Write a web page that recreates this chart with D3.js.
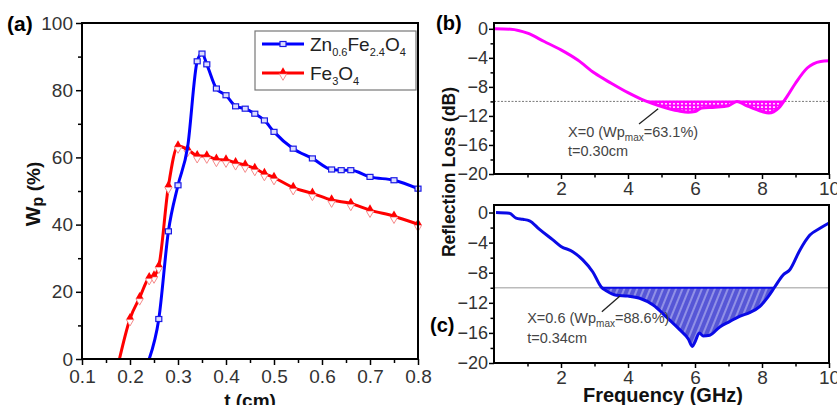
<!DOCTYPE html>
<html>
<head>
<meta charset="utf-8">
<script src="https://cdn.jsdelivr.net/npm/d3@7"></script>
<style>
  body { margin: 0; background: #fff; }
  svg { display: block; font-family: Arial, "Liberation Sans", sans-serif; }
  .tick text { fill: #333; }
</style>
</head>
<body>
<svg id="chart" width="837" height="405"></svg>
<script>
// panel (a): penetration ratio vs thickness
const znT = [0.24, 0.26, 0.28, 0.30, 0.32, 0.34, 0.35, 0.36, 0.38, 0.40, 0.42, 0.44, 0.46, 0.48, 0.50, 0.54, 0.58, 0.62, 0.64, 0.66, 0.70, 0.75, 0.80];
const znW = [0, 11.9, 38, 51.7, 63, 88.6, 90.9, 87.7, 80.5, 78.5, 75.2, 74.5, 73, 71, 67.6, 62.6, 59.7, 56.4, 56.2, 56.2, 54.2, 53.2, 50.7];
const feT = [0.178, 0.20, 0.22, 0.24, 0.25, 0.26, 0.28, 0.30, 0.32, 0.34, 0.36, 0.38, 0.40, 0.42, 0.44, 0.46, 0.48, 0.50, 0.54, 0.58, 0.62, 0.66, 0.70, 0.75, 0.80];
const feW = [0, 12, 18.2, 24.2, 24.7, 27.6, 51.4, 63.4, 62.4, 60.5, 60.4, 59.4, 59.2, 58.4, 57.7, 56.7, 55.2, 54, 51, 49.3, 47.3, 46.3, 44.3, 42.5, 40.1];

// panel (b): X=0, t=0.30cm
const freqB = [0.03, 0.5, 1.0, 1.5, 2.0, 2.5, 3.0, 3.5, 4.0, 4.5, 5.0, 5.5, 5.8, 6.0, 6.2, 6.6, 7.0, 7.25, 7.5, 8.0, 8.2, 8.5, 8.75, 9.0, 9.35, 9.75, 10];
const rlB = [0, -0.05, -0.6, -1.75, -2.9, -4.3, -6.1, -7.5, -8.8, -9.9, -10.7, -11.3, -11.5, -11.4, -10.9, -10.8, -10.6, -10.0, -10.5, -11.4, -11.6, -10.9, -9.3, -7.5, -5.4, -4.5, -4.4];

// panel (c): X=0.6, t=0.34cm
const freqC = [0.06, 0.46, 0.66, 0.86, 1.06, 1.35, 1.75, 2.0, 2.35, 2.65, 2.95, 3.2, 3.35, 3.65, 4.0, 4.35, 4.75, 5.15, 5.55, 5.8, 5.92, 6.0, 6.13, 6.24, 6.44, 6.74, 7.03, 7.33, 7.63, 7.93, 8.18, 8.38, 8.63, 8.83, 9.13, 9.43, 9.73, 10];
const rlC = [0, -0.1, -0.75, -0.9, -1.1, -2.2, -3.6, -4.5, -5.2, -6.3, -7.9, -9.9, -10.4, -11, -11.1, -11.4, -12.3, -13.9, -15.6, -16.8, -17.8, -17.2, -16.0, -16.4, -16.3, -15.2, -14.5, -13.8, -13.3, -12.5, -11.2, -9.9, -8.3, -7.6, -5.0, -3.0, -2.1, -1.4];

const wTicks = [0, 20, 40, 60, 80, 100];
const tTicks = [0.1, 0.2, 0.3, 0.4, 0.5, 0.6, 0.7, 0.8];
const rlTicks = [0, -4, -8, -12, -16, -20];
const fTicks = [2, 4, 6, 8, 10];
const threshold = -10;

const svg = d3.select('#chart');
const zip = (xs, ys) => xs.map((x, i) => ({x, y: ys[i]}));

const defs = svg.append('defs');
const dots = defs.append('pattern').attr('id', 'dots').attr('patternUnits', 'userSpaceOnUse')
    .attr('width', 4).attr('height', 3.4);
dots.append('rect').attr('width', 4).attr('height', 3.4).attr('fill', '#ff00ff');
dots.append('ellipse').attr('cx', 2).attr('cy', 1.7).attr('rx', 1.2).attr('ry', 0.9).attr('fill', '#fff');
const hatch = defs.append('pattern').attr('id', 'hatch').attr('patternUnits', 'userSpaceOnUse')
    .attr('width', 6).attr('height', 6).attr('patternTransform', 'rotate(22)');
hatch.append('rect').attr('width', 6).attr('height', 6).attr('fill', '#5656d6');
hatch.append('line').attr('x1', 3).attr('x2', 3).attr('y1', 0).attr('y2', 6)
    .attr('stroke', '#e8e8ff').attr('stroke-width', 0.8);

function styleAxis(g) {
    g.select('.domain').remove();
    g.selectAll('.tick line').attr('stroke', '#000').attr('stroke-width', 1.5);
}

function frame(x, y) {
    svg.append('rect')
        .attr('x', x.range()[0]).attr('y', y.range()[1])
        .attr('width', x.range()[1] - x.range()[0]).attr('height', y.range()[0] - y.range()[1])
        .attr('fill', 'none').attr('stroke', '#000').attr('stroke-width', 2);
}

// ---------- panel (a) ----------
const xa = d3.scaleLinear().domain([0.1, 0.8]).range([82, 418]);
const ya = d3.scaleLinear().domain([0, 100]).range([359, 23]);

svg.append('g').attr('transform', `translate(0,${ya.range()[0]})`)
    .call(d3.axisBottom(xa).tickValues(d3.range(0.15, 0.8, 0.1)).tickSize(4).tickFormat(''))
    .call(styleAxis);
svg.append('g').attr('transform', `translate(0,${ya.range()[0]})`)
    .call(d3.axisBottom(xa).tickValues(tTicks).tickSize(6).tickPadding(5).tickFormat(d3.format('.1f')))
    .call(styleAxis)
    .selectAll('text').attr('font-size', 19);
svg.append('g').attr('transform', `translate(${xa.range()[0]},0)`)
    .call(d3.axisLeft(ya).tickValues(d3.range(10, 100, 20)).tickSize(4).tickFormat(''))
    .call(styleAxis);
svg.append('g').attr('transform', `translate(${xa.range()[0]},0)`)
    .call(d3.axisLeft(ya).tickValues(wTicks).tickSize(6).tickPadding(3))
    .call(styleAxis)
    .selectAll('text').attr('font-size', 19);

const lineA = d3.line().x(d => xa(d.x)).y(d => ya(d.y)).curve(d3.curveMonotoneX);
const feData = zip(feT, feW), znData = zip(znT, znW);

function triMarks(g, data) {
    const tri = d3.symbol().type(d3.symbolTriangle).size(24);
    g.selectAll('.dn').data(data).join('path').attr('class', 'dn')
        .attr('d', tri).attr('transform', d => `translate(${xa(d.x)},${ya(d.y) + 3}) rotate(180)`)
        .attr('fill', '#fff').attr('stroke', '#f58a8a').attr('stroke-width', 1);
    g.selectAll('.up').data(data).join('path').attr('class', 'up')
        .attr('d', tri).attr('transform', d => `translate(${xa(d.x)},${ya(d.y) - 1.5})`)
        .attr('fill', '#ff0000');
}
function sqMarks(g, data) {
    g.selectAll('rect').data(data).join('rect')
        .attr('x', d => xa(d.x) - 3).attr('y', d => ya(d.y) - 2.5)
        .attr('width', 6).attr('height', 5)
        .attr('fill', '#dcdcff').attr('stroke', '#1a1ae6').attr('stroke-width', 1.2);
}

svg.append('path').datum(feData).attr('d', lineA)
    .attr('fill', 'none').attr('stroke', '#ff0000').attr('stroke-width', 3);
triMarks(svg.append('g'), feData.filter(d => d.y > 0));
svg.append('path').datum(znData).attr('d', lineA)
    .attr('fill', 'none').attr('stroke', '#0000ff').attr('stroke-width', 3);
sqMarks(svg.append('g'), znData.filter(d => d.y > 0 && d.x !== 0.32));

frame(xa, ya);

// legend
const leg = svg.append('g');
leg.append('rect').attr('x', 255).attr('y', 31).attr('width', 161).attr('height', 59)
    .attr('fill', '#fff').attr('stroke', '#777').attr('stroke-width', 1.2);
leg.append('line').attr('x1', 262).attr('x2', 304).attr('y1', 44).attr('y2', 44)
    .attr('stroke', '#0000ff').attr('stroke-width', 3);
leg.append('rect').attr('x', 280).attr('y', 41.5).attr('width', 6).attr('height', 5)
    .attr('fill', '#dcdcff').attr('stroke', '#1a1ae6').attr('stroke-width', 1.2);
leg.append('line').attr('x1', 262).attr('x2', 304).attr('y1', 73).attr('y2', 73)
    .attr('stroke', '#ff0000').attr('stroke-width', 3);
leg.append('path').attr('d', d3.symbol().type(d3.symbolTriangle).size(24))
    .attr('transform', 'translate(283,76) rotate(180)')
    .attr('fill', '#fff').attr('stroke', '#f58a8a');
leg.append('path').attr('d', d3.symbol().type(d3.symbolTriangle).size(24))
    .attr('transform', 'translate(283,71.5)').attr('fill', '#ff0000');

function formula(g, x, y, parts) {
    const t = g.append('text').attr('x', x).attr('y', y).attr('font-size', 19).attr('fill', '#222');
    let down = false;
    parts.forEach(([s, sub]) => {
        if (sub) { t.append('tspan').text(s).attr('font-size', 11).attr('dy', 5); down = true; }
        else { t.append('tspan').text(s).attr('dy', down ? -5 : 0); down = false; }
    });
}
formula(leg, 310, 51, [['Zn'], ['0.6', true], ['Fe'], ['2.4', true], ['O'], ['4', true]]);
formula(leg, 310, 80, [['Fe'], ['3', true], ['O'], ['4', true]]);

svg.append('text').attr('x', 7).attr('y', 31).attr('font-size', 21).attr('font-weight', 'bold').text('(a)');
const wl = svg.append('text').attr('transform', 'translate(40,194) rotate(-90)')
    .attr('text-anchor', 'middle').attr('font-weight', 'bold').attr('fill', '#111');
wl.append('tspan').text('W').attr('font-size', 21);
wl.append('tspan').text('p').attr('font-size', 16).attr('dy', 3);
wl.append('tspan').text(' (%)').attr('font-size', 19).attr('dy', -3);
svg.append('text').attr('x', xa(0.45)).attr('y', 407).attr('text-anchor', 'middle')
    .attr('font-size', 19).attr('font-weight', 'bold').attr('fill', '#111').text('t (cm)');

// ---------- panels (b) and (c) ----------
const xf = d3.scaleLinear().domain([0, 10]).range([494, 829]);
const yb = d3.scaleLinear().domain([-20, 0.8]).range([174, 23]);
const yc = d3.scaleLinear().domain([-20, 1.0]).range([363, 205]);

// fill region below -10 dB, with threshold crossings inserted
function belowFill(data) {
    const out = [];
    data.forEach((d, i) => {
        if (i > 0) {
            const p = data[i - 1];
            if ((p.y - threshold) * (d.y - threshold) < 0) {
                const k = (threshold - p.y) / (d.y - p.y);
                out.push({x: p.x + k * (d.x - p.x), y: threshold});
            }
        }
        out.push(d);
    });
    return out;
}

function rlPanel(y, freq, rl, color, fillId, refDash, refColor) {
    svg.append('g').attr('transform', `translate(0,${y.range()[0]})`)
        .call(d3.axisBottom(xf).tickValues([1, 3, 5, 7, 9]).tickSize(3.5).tickFormat(''))
        .call(styleAxis);
    svg.append('g').attr('transform', `translate(0,${y.range()[0]})`)
        .call(d3.axisBottom(xf).tickValues(fTicks).tickSize(5).tickPadding(3))
        .call(styleAxis)
        .selectAll('text').attr('font-size', 19);
    svg.append('g').attr('transform', `translate(${xf.range()[0]},0)`)
        .call(d3.axisLeft(y).tickValues([-2, -6, -10, -14, -18]).tickSize(3.5).tickFormat(''))
        .call(styleAxis);
    svg.append('g').attr('transform', `translate(${xf.range()[0]},0)`)
        .call(d3.axisLeft(y).tickValues(rlTicks).tickSize(5).tickPadding(1))
        .call(styleAxis)
        .selectAll('text').attr('font-size', 18);

    svg.append('line').attr('x1', xf.range()[0]).attr('x2', xf.range()[1])
        .attr('y1', y(threshold)).attr('y2', y(threshold))
        .attr('stroke', refColor).attr('stroke-width', refDash ? 1 : 1.5)
        .attr('stroke-dasharray', refDash);

    const data = zip(freq, rl);
    const fillData = belowFill(data);
    const area = d3.area().x(d => xf(d.x)).y0(y(threshold))
        .y1(d => y(Math.min(d.y, threshold))).curve(d3.curveMonotoneX);
    svg.append('path').datum(fillData).attr('d', area).attr('fill', `url(#${fillId})`);
    svg.append('path').datum(fillData)
        .attr('d', d3.line().defined(d => d.y <= threshold).x(d => xf(d.x)).y(y(threshold)))
        .attr('fill', 'none').attr('stroke', color).attr('stroke-width', 2);
    svg.append('path').datum(data)
        .attr('d', d3.line().x(d => xf(d.x)).y(d => y(d.y)).curve(d3.curveMonotoneX))
        .attr('fill', 'none').attr('stroke', color).attr('stroke-width', 3);
    frame(xf, y);
}

rlPanel(yb, freqB, rlB, '#ff00ff', 'dots', '2,1.5', '#777');
rlPanel(yc, freqC, rlC, '#0a0ae6', 'hatch', null, '#bbb');

function note(y, x0, y0, x1, y1, tx, ty1, ty2, label, value, thick) {
    svg.append('line').attr('x1', xf(x0)).attr('y1', y(y0)).attr('x2', xf(x1)).attr('y2', y(y1))
        .attr('stroke', '#222').attr('stroke-width', 1.3);
    const t = svg.append('text').attr('x', xf(tx)).attr('y', y(ty1)).attr('font-size', 14.5).attr('fill', '#444');
    t.append('tspan').text(label);
    t.append('tspan').text('max').attr('font-size', 10).attr('dy', 4);
    t.append('tspan').text(value).attr('dy', -4);
    svg.append('text').attr('x', xf(tx)).attr('y', y(ty2)).attr('font-size', 14.5).attr('fill', '#444').text(thick);
}
note(yb, 4.33, -13.1, 4.9, -11.0, 2.21, -14.9, -17.5, 'X=0 (Wp', '=63.1%)', 't=0.30cm');
note(yc, 3.22, -13.2, 3.76, -11.1, 0.99, -14.7, -17.4, 'X=0.6 (Wp', '=88.6%)', 't=0.34cm');

svg.append('text').attr('x', 436).attr('y', 30).attr('font-size', 20).attr('font-weight', 'bold').text('(b)');
svg.append('text').attr('x', 430).attr('y', 332).attr('font-size', 20).attr('font-weight', 'bold').text('(c)');
svg.append('text').attr('transform', 'translate(455,172) rotate(-90)').attr('text-anchor', 'middle')
    .attr('font-size', 17.5).attr('font-weight', 'bold').attr('fill', '#111').text('Reflection Loss (dB)');
svg.append('text').attr('x', 663).attr('y', 402).attr('text-anchor', 'middle')
    .attr('font-size', 20).attr('font-weight', 'bold').attr('fill', '#111').text('Frequency (GHz)');
</script>
</body>
</html>
